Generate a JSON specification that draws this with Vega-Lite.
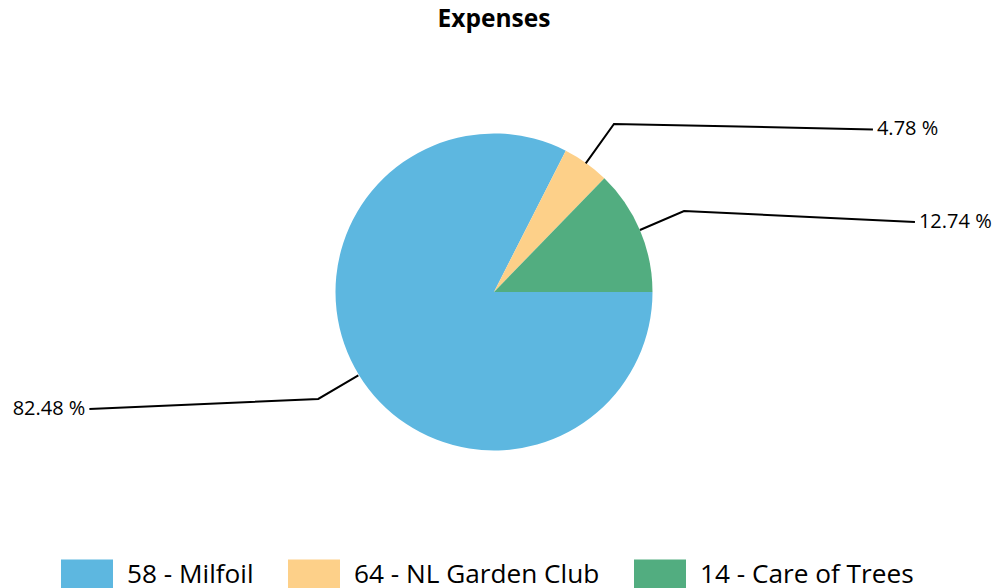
{
  "$schema": "https://vega.github.io/schema/vega-lite/v6.json",
  "width": 988,
  "height": 504,
  "autosize": {"type": "none"},
  "padding": {"left": 0, "top": 40, "right": 7, "bottom": 44},
  "background": "white",
  "title": {
    "text": "Expenses",
    "font": "Open Sans",
    "fontSize": 24.5,
    "fontWeight": "bold",
    "color": "#000000",
    "anchor": "middle",
    "frame": "group",
    "baseline": "alphabetic",
    "offset": -11
  },
  "datasets": {
    "slices": [
      {"name": "58 - Milfoil", "pct": 82.48, "ord": 1},
      {"name": "64 - NL Garden Club", "pct": 4.78, "ord": 2},
      {"name": "14 - Care of Trees", "pct": 12.74, "ord": 3}
    ],
    "leaders": [
      {"slice": "64 - NL Garden Club", "pt": 1, "x": 0.579, "y": 0.812},
      {"slice": "64 - NL Garden Club", "pt": 2, "x": 0.757, "y": 1.060},
      {"slice": "64 - NL Garden Club", "pt": 3, "x": 2.391, "y": 1.026},
      {"slice": "14 - Care of Trees", "pt": 1, "x": 0.921, "y": 0.391},
      {"slice": "14 - Care of Trees", "pt": 2, "x": 1.199, "y": 0.511},
      {"slice": "14 - Care of Trees", "pt": 3, "x": 2.656, "y": 0.442},
      {"slice": "58 - Milfoil", "pt": 1, "x": -0.856, "y": -0.526},
      {"slice": "58 - Milfoil", "pt": 2, "x": -1.109, "y": -0.675},
      {"slice": "58 - Milfoil", "pt": 3, "x": -2.553, "y": -0.738}
    ],
    "labels": [
      {"label": "4.78 %", "x": 2.391, "y": 1.026, "side": "right"},
      {"label": "12.74 %", "x": 2.656, "y": 0.442, "side": "right"},
      {"label": "82.48 %", "x": -2.553, "y": -0.738, "side": "left"}
    ]
  },
  "layer": [
    {
      "data": {"name": "slices"},
      "mark": {"type": "arc", "outerRadius": 158.5},
      "encoding": {
        "theta": {
          "field": "pct",
          "type": "quantitative",
          "stack": true,
          "scale": {"range": [1.5708, 7.8540]}
        },
        "order": {"field": "ord", "type": "quantitative"},
        "color": {
          "field": "name",
          "type": "nominal",
          "sort": null,
          "scale": {
            "domain": ["58 - Milfoil", "64 - NL Garden Club", "14 - Care of Trees"],
            "range": ["#5DB7E0", "#FDD089", "#52AD80"]
          },
          "legend": {
            "title": null,
            "orient": "none",
            "direction": "horizontal",
            "legendX": 61,
            "legendY": 509,
            "padding": 0,
            "symbolType": "M-1,-0.6H1V0.6H-1Z",
            "symbolSize": 2704,
            "symbolStrokeWidth": 0,
            "symbolOpacity": 1,
            "labelFont": "Open Sans",
            "labelFontSize": 26.2,
            "labelColor": "#000000",
            "labelOffset": 14,
            "columnPadding": 34,
            "labelLimit": 400
          }
        }
      }
    },
    {
      "data": {"name": "leaders"},
      "mark": {"type": "line", "color": "#000000", "strokeWidth": 2, "interpolate": "linear"},
      "encoding": {
        "x": {"field": "x", "type": "quantitative", "axis": null, "scale": {"domain": [-3.117, 3.117], "nice": false, "zero": false}},
        "y": {"field": "y", "type": "quantitative", "axis": null, "scale": {"domain": [-1.590, 1.590], "nice": false, "zero": false}},
        "detail": {"field": "slice", "type": "nominal"},
        "order": {"field": "pt", "type": "quantitative"}
      }
    },
    {
      "data": {"name": "labels"},
      "transform": [{"filter": "datum.side == 'right'"}],
      "mark": {"type": "text", "align": "left", "baseline": "middle", "dx": 4, "font": "Open Sans", "fontSize": 20, "color": "#000000"},
      "encoding": {
        "x": {"field": "x", "type": "quantitative"},
        "y": {"field": "y", "type": "quantitative"},
        "text": {"field": "label", "type": "nominal"}
      }
    },
    {
      "data": {"name": "labels"},
      "transform": [{"filter": "datum.side == 'left'"}],
      "mark": {"type": "text", "align": "right", "baseline": "middle", "dx": -4, "font": "Open Sans", "fontSize": 20, "color": "#000000"},
      "encoding": {
        "x": {"field": "x", "type": "quantitative"},
        "y": {"field": "y", "type": "quantitative"},
        "text": {"field": "label", "type": "nominal"}
      }
    }
  ],
  "config": {
    "view": {"stroke": null}
  }
}
